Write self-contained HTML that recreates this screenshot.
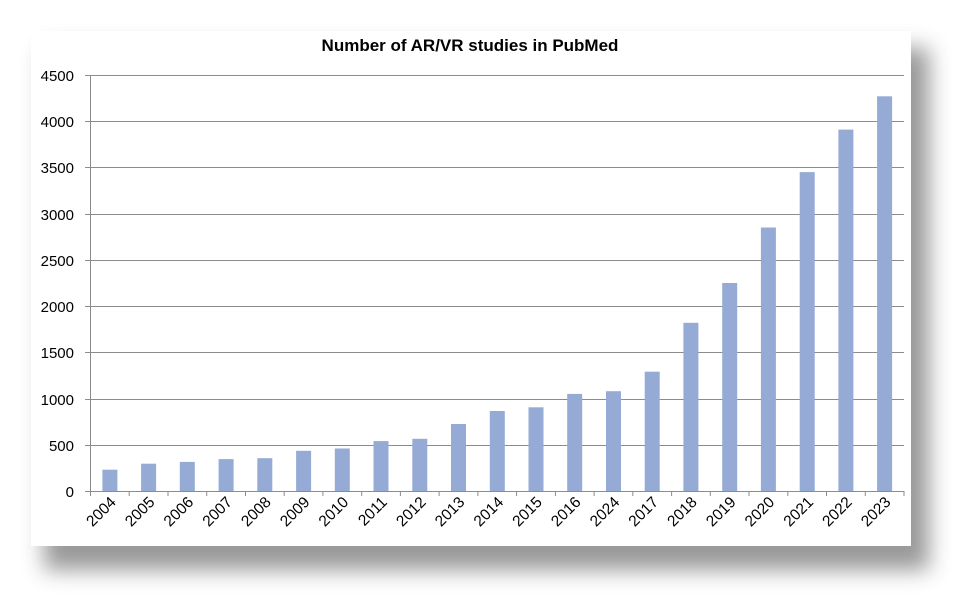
<!DOCTYPE html>
<html><head><style>
html,body{margin:0;padding:0;background:#fff;width:975px;height:611px;overflow:hidden}
svg{display:block}
</style></head><body>
<svg width="975" height="611" xmlns="http://www.w3.org/2000/svg" font-family="'Liberation Sans',sans-serif">
<defs>
<filter id="sh" x="-10%" y="-10%" width="130%" height="140%">
<feGaussianBlur stdDeviation="11"/>
</filter>
</defs>
<rect x="44" y="48" width="885" height="522" fill="#555" opacity="0.6" filter="url(#sh)"/>
<rect x="31" y="31" width="880" height="515" fill="#fff"/>
<text x="470" y="51" text-anchor="middle" font-size="17" font-weight="bold" fill="#000">Number of AR/VR studies in PubMed</text>
<g stroke="#8c8c8c" stroke-width="1">
<line x1="85" x2="904" y1="75.5" y2="75.5"/>
<line x1="85" x2="904" y1="121.5" y2="121.5"/>
<line x1="85" x2="904" y1="167.5" y2="167.5"/>
<line x1="85" x2="904" y1="214.5" y2="214.5"/>
<line x1="85" x2="904" y1="260.5" y2="260.5"/>
<line x1="85" x2="904" y1="306.5" y2="306.5"/>
<line x1="85" x2="904" y1="352.5" y2="352.5"/>
<line x1="85" x2="904" y1="399.5" y2="399.5"/>
<line x1="85" x2="904" y1="445.5" y2="445.5"/>
<line x1="85" x2="904" y1="491.5" y2="491.5"/>
<line x1="90.5" x2="90.5" y1="75" y2="496"/>
<line x1="129.2" x2="129.2" y1="491" y2="496"/><line x1="168" x2="168" y1="491" y2="496"/>
<line x1="206.7" x2="206.7" y1="491" y2="496"/><line x1="245.5" x2="245.5" y1="491" y2="496"/>
<line x1="284.2" x2="284.2" y1="491" y2="496"/><line x1="322.9" x2="322.9" y1="491" y2="496"/>
<line x1="361.7" x2="361.7" y1="491" y2="496"/><line x1="400.4" x2="400.4" y1="491" y2="496"/>
<line x1="439.1" x2="439.1" y1="491" y2="496"/><line x1="477.9" x2="477.9" y1="491" y2="496"/>
<line x1="516.6" x2="516.6" y1="491" y2="496"/><line x1="555.4" x2="555.4" y1="491" y2="496"/>
<line x1="594.1" x2="594.1" y1="491" y2="496"/><line x1="632.8" x2="632.8" y1="491" y2="496"/>
<line x1="671.6" x2="671.6" y1="491" y2="496"/><line x1="710.3" x2="710.3" y1="491" y2="496"/>
<line x1="749" x2="749" y1="491" y2="496"/><line x1="787.8" x2="787.8" y1="491" y2="496"/>
<line x1="826.5" x2="826.5" y1="491" y2="496"/><line x1="865.3" x2="865.3" y1="491" y2="496"/>
<line x1="904" x2="904" y1="491" y2="496"/>
</g>
<g font-size="15" fill="#000" text-anchor="end">
<text x="74" y="81">4500</text><text x="74" y="127">4000</text><text x="74" y="173">3500</text>
<text x="74" y="220">3000</text><text x="74" y="266">2500</text><text x="74" y="312">2000</text>
<text x="74" y="358">1500</text><text x="74" y="405">1000</text><text x="74" y="451">500</text>
<text x="74" y="497">0</text>
</g>
<g fill="#95abd5">
<rect x="102.4" y="469.7" width="15" height="21.3"/>
<rect x="141.1" y="463.7" width="15" height="27.3"/>
<rect x="179.8" y="461.9" width="15" height="29.1"/>
<rect x="218.6" y="459.1" width="15" height="31.9"/>
<rect x="257.3" y="458.2" width="15" height="32.8"/>
<rect x="296.1" y="450.8" width="15" height="40.2"/>
<rect x="334.8" y="448.5" width="15" height="42.5"/>
<rect x="373.5" y="441.1" width="15" height="49.9"/>
<rect x="412.3" y="438.8" width="15" height="52.2"/>
<rect x="451" y="424" width="15" height="67"/>
<rect x="489.8" y="411" width="15" height="80"/>
<rect x="528.5" y="407.3" width="15" height="83.7"/>
<rect x="567.2" y="393.9" width="15" height="97.1"/>
<rect x="606" y="391.2" width="15" height="99.8"/>
<rect x="644.7" y="371.7" width="15" height="119.3"/>
<rect x="683.4" y="322.8" width="15" height="168.2"/>
<rect x="722.2" y="283" width="15" height="208"/>
<rect x="760.9" y="227.5" width="15" height="263.5"/>
<rect x="799.7" y="172.1" width="15" height="318.9"/>
<rect x="838.4" y="129.6" width="15" height="361.4"/>
<rect x="877.1" y="96.3" width="15" height="394.7"/>
</g>
<g font-size="15.5" fill="#000" text-anchor="end">
<text x="116.9" y="503" transform="rotate(-45 116.9 503)">2004</text>
<text x="155.6" y="503" transform="rotate(-45 155.6 503)">2005</text>
<text x="194.3" y="503" transform="rotate(-45 194.3 503)">2006</text>
<text x="233.1" y="503" transform="rotate(-45 233.1 503)">2007</text>
<text x="271.8" y="503" transform="rotate(-45 271.8 503)">2008</text>
<text x="310.6" y="503" transform="rotate(-45 310.6 503)">2009</text>
<text x="349.3" y="503" transform="rotate(-45 349.3 503)">2010</text>
<text x="388" y="503" transform="rotate(-45 388 503)">2011</text>
<text x="426.8" y="503" transform="rotate(-45 426.8 503)">2012</text>
<text x="465.5" y="503" transform="rotate(-45 465.5 503)">2013</text>
<text x="504.3" y="503" transform="rotate(-45 504.3 503)">2014</text>
<text x="543" y="503" transform="rotate(-45 543 503)">2015</text>
<text x="581.7" y="503" transform="rotate(-45 581.7 503)">2016</text>
<text x="620.5" y="503" transform="rotate(-45 620.5 503)">2024</text>
<text x="659.2" y="503" transform="rotate(-45 659.2 503)">2017</text>
<text x="697.9" y="503" transform="rotate(-45 697.9 503)">2018</text>
<text x="736.7" y="503" transform="rotate(-45 736.7 503)">2019</text>
<text x="775.4" y="503" transform="rotate(-45 775.4 503)">2020</text>
<text x="814.2" y="503" transform="rotate(-45 814.2 503)">2021</text>
<text x="852.9" y="503" transform="rotate(-45 852.9 503)">2022</text>
<text x="891.6" y="503" transform="rotate(-45 891.6 503)">2023</text>
</g>
</svg>
</body></html>
